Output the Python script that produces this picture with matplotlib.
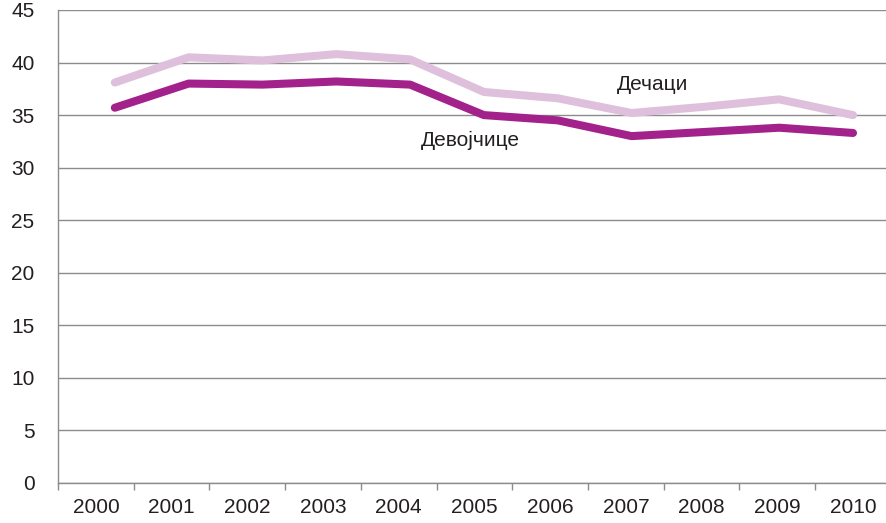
import numpy as np
import matplotlib.pyplot as plt

plt.rcParams["font.family"] = ["Liberation Sans", "DejaVu Sans"]

years = ["2000", "2001", "2002", "2003", "2004", "2005",
         "2006", "2007", "2008", "2009", "2010"]
boys = [38.1, 40.5, 40.2, 40.8, 40.3, 37.2, 36.6, 35.2, 35.8, 36.5, 35.0]
girls = [35.7, 38.0, 37.9, 38.2, 37.9, 35.0, 34.5, 33.0, 33.4, 33.8, 33.3]
yticks = [0, 5, 10, 15, 20, 25, 30, 35, 40, 45]

text_col = "#231f20"
grid_col = "#8c8c8c"
fs = 15

fig = plt.figure(figsize=(8.86, 5.23), dpi=100)
ax = fig.add_axes([0.0655, 0.0765, 0.940, 0.9044])

# category slots 0..11, points drawn slightly offset inside each slot
idx = np.arange(len(years))
xpos = 0.75 + idx * 0.975

ax.plot(xpos, boys, color="#dfc0dc", lw=5.8, solid_capstyle="round", zorder=3)
ax.plot(xpos, girls, color="#a3218b", lw=5.8, solid_capstyle="round", zorder=4)

ax.text(7.85, 37.9, "Дечаци", fontsize=fs, color=text_col, ha="center", va="center")
ax.text(5.45, 32.6, "Девојчице", fontsize=fs, color=text_col, ha="center", va="center")

ax.set_xlim(0, len(years))
ax.set_ylim(0, 45)
ax.set_yticks(yticks)
ax.yaxis.grid(True, color=grid_col, lw=1)
ax.set_axisbelow(True)

ax.set_xticks(np.arange(len(years) + 1))
ax.set_xticklabels([])
ax.set_xticks(idx + 0.5, minor=True)
ax.set_xticklabels(years, minor=True)
ax.tick_params(axis="x", which="major", length=5, width=1, color=grid_col, direction="out")
ax.tick_params(axis="x", which="minor", length=0, pad=11, labelsize=fs, labelcolor=text_col)
ax.tick_params(axis="y", length=0, pad=17, labelsize=fs, labelcolor=text_col)

for s in ["top", "right"]:
    ax.spines[s].set_visible(False)
for s in ["left", "bottom"]:
    ax.spines[s].set_color(grid_col)
    ax.spines[s].set_linewidth(1)

fig.savefig("out.png", dpi=100)
